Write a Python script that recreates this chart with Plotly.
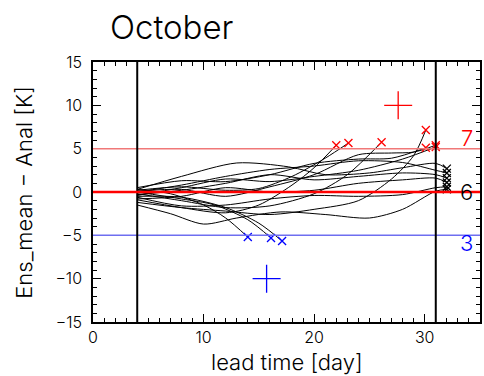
import plotly.graph_objects as go

# Ensemble members: lead time [day] and Ens_mean - Anal [K]
member_days = [
    [4, 8, 13, 17.7, 21, 25, 28, 31, 32],
    [4, 8, 12, 16, 20, 24, 28, 31, 32],
    [4, 8, 12, 16, 20, 24, 28, 31, 32],
    [4, 8, 12, 16, 20, 24, 28, 31, 32],
    [4, 8, 12, 16, 20, 24, 28, 31, 32],
    [4, 7, 10, 13, 17, 21, 25, 28, 31, 32],
    [4, 8, 12, 15, 18, 20, 22.0],
    [4, 8, 12, 15, 18, 21, 23.1],
    [4, 8, 12, 16, 20, 23, 26.1],
    [4, 8, 12, 16, 20, 24, 27, 29, 30.1],
    [4, 8, 12, 16, 20, 24, 27, 30.1],
    [4, 8, 12, 16, 20, 24, 28, 31.0],
    [4, 8, 12, 16, 20, 24, 27, 29, 31.0],
    [4, 7, 10, 12, 14.0],
    [4, 8, 11, 14, 16.1],
    [4, 8, 12, 15, 17.1],
]
member_vals = [
    [0.3, 1.8, 3.35, 2.9, 2.0, 2.2, 2.8, 3.3, 2.7],
    [0.0, 0.8, 1.8, 2.6, 3.0, 3.6, 3.4, 2.5, 2.2],
    [-0.3, 0.2, 1.0, 2.0, 1.4, 1.8, 2.2, 2.0, 1.6],
    [-0.8, -0.5, 0.5, 0.0, 0.2, 1.0, 1.4, 1.6, 1.1],
    [-0.6, -1.6, -1.5, -0.8, -0.4, -0.5, -0.3, 0.5, 0.6],
    [-1.5, -2.5, -3.7, -3.0, -2.3, -2.6, -3.0, -2.0, 0.1, 0.3],
    [-0.9, -1.8, -2.4, -1.5, 0.8, 2.8, 5.4],
    [0.2, 0.6, 0.2, 0.4, 1.8, 3.9, 5.65],
    [-0.2, -1.0, -1.8, -1.6, -0.2, 2.0, 5.75],
    [-1.2, -1.8, -2.2, -2.6, -2.0, -1.0, 1.5, 4.2, 7.15],
    [0.5, 1.3, 1.2, 2.0, 3.3, 3.8, 3.9, 5.1],
    [-0.4, 0.5, 1.5, 1.2, 1.8, 2.5, 3.8, 5.2],
    [0.1, 0.3, -0.5, 0.6, 2.0, 4.3, 4.5, 4.6, 5.4],
    [0.3, -0.2, -1.5, -3.0, -5.2],
    [0.0, -0.8, -1.5, -3.2, -5.3],
    [-0.5, -0.6, -1.8, -3.6, -5.65],
]

# Thresholds and window
upper_thr = 5
lower_thr = -5
window = [4, 31]

# Mean crossing points
warm_cross = (27.6, 10.0)
cold_cross = (15.7, -10.0)

RED = "#ff0000"
BLUE = "#0000ff"
LIGHT_RED = "#f07878"
LIGHT_BLUE = "#6e6ef0"
FONT = "Inter"
WEIGHT = 300

fig = go.Figure()

# threshold lines
fig.add_hline(y=upper_thr, line=dict(color=LIGHT_RED, width=1.5))
fig.add_hline(y=lower_thr, line=dict(color=LIGHT_BLUE, width=1.5))
for xv in window:
    fig.add_vline(x=xv, line=dict(color="black", width=2))

ends = {"warm": [[], []], "cold": [[], []], "mid": [[], []]}
for xs, ys in zip(member_days, member_vals):
    fig.add_trace(go.Scatter(x=xs, y=ys, mode="lines",
                             line=dict(color="black", width=1, shape="spline", smoothing=0.8),
                             hoverinfo="skip", showlegend=False))
    key = "warm" if ys[-1] > upper_thr else ("cold" if ys[-1] < lower_thr else "mid")
    ends[key][0].append(xs[-1])
    ends[key][1].append(ys[-1])

fig.add_hline(y=0, line=dict(color=RED, width=2.5))

for key, col in (("warm", RED), ("cold", BLUE), ("mid", "black")):
    fig.add_trace(go.Scatter(x=ends[key][0], y=ends[key][1], mode="markers",
                             marker=dict(symbol="x-thin", size=8, line=dict(color=col, width=1.3)),
                             showlegend=False))

fig.add_trace(go.Scatter(x=[warm_cross[0]], y=[warm_cross[1]], mode="markers",
                         marker=dict(symbol="cross-thin", size=20, line=dict(color=RED, width=1.3)),
                         showlegend=False))
fig.add_trace(go.Scatter(x=[cold_cross[0]], y=[cold_cross[1]], mode="markers",
                         marker=dict(symbol="cross-thin", size=20, line=dict(color=BLUE, width=1.3)),
                         showlegend=False))

# member counts
for txt, yv, col in ((str(len(ends["warm"][0])), 6.2, RED),
                     (str(len(ends["mid"][0])), 0.0, "black"),
                     (str(len(ends["cold"][0])), -5.9, BLUE)):
    fig.add_annotation(x=33.8, y=yv, text=txt, showarrow=False,
                       font=dict(family=FONT, size=22, color=col, weight=WEIGHT),
                       xanchor="center", yanchor="middle")

axis_common = dict(showgrid=False, zeroline=False, showline=True, linecolor="black", linewidth=1.5,
                   mirror="allticks", ticks="inside", ticklen=8, tickcolor="black", tickwidth=1,
                   tickfont=dict(family=FONT, size=16, color="black", weight=WEIGHT))

fig.update_xaxes(range=[0, 35], dtick=10, tick0=0,
                 minor=dict(dtick=1, ticks="inside", ticklen=4, tickcolor="black"),
                 **axis_common)
fig.update_yaxes(range=[-15, 15], dtick=5, tick0=0, ticklabelstandoff=6,
                 minor=dict(dtick=1, ticks="inside", ticklen=4, tickcolor="black"),
                 **axis_common)

# axis titles and heading
fig.add_annotation(xref="paper", yref="paper", x=0.5, y=-0.152, text="lead time [day]",
                   showarrow=False, xanchor="center", yanchor="middle",
                   font=dict(family=FONT, size=22, color="black", weight=WEIGHT))
fig.add_annotation(xref="paper", yref="paper", x=-0.179, y=0.5, text="Ens_mean \u2212 Anal [K]",
                   showarrow=False, xanchor="center", yanchor="middle", textangle=-90,
                   font=dict(family=FONT, size=22, color="black", weight=WEIGHT))
fig.add_annotation(xref="paper", yref="paper", x=0.038, y=1.135, text="October", showarrow=False,
                   xanchor="left", yanchor="middle",
                   font=dict(family=FONT, size=33, color="black", weight=WEIGHT))

fig.update_layout(width=484, height=376, margin=dict(l=93, r=2, t=62, b=54),
                  paper_bgcolor="white", plot_bgcolor="white")

fig.write_html("out.html")
